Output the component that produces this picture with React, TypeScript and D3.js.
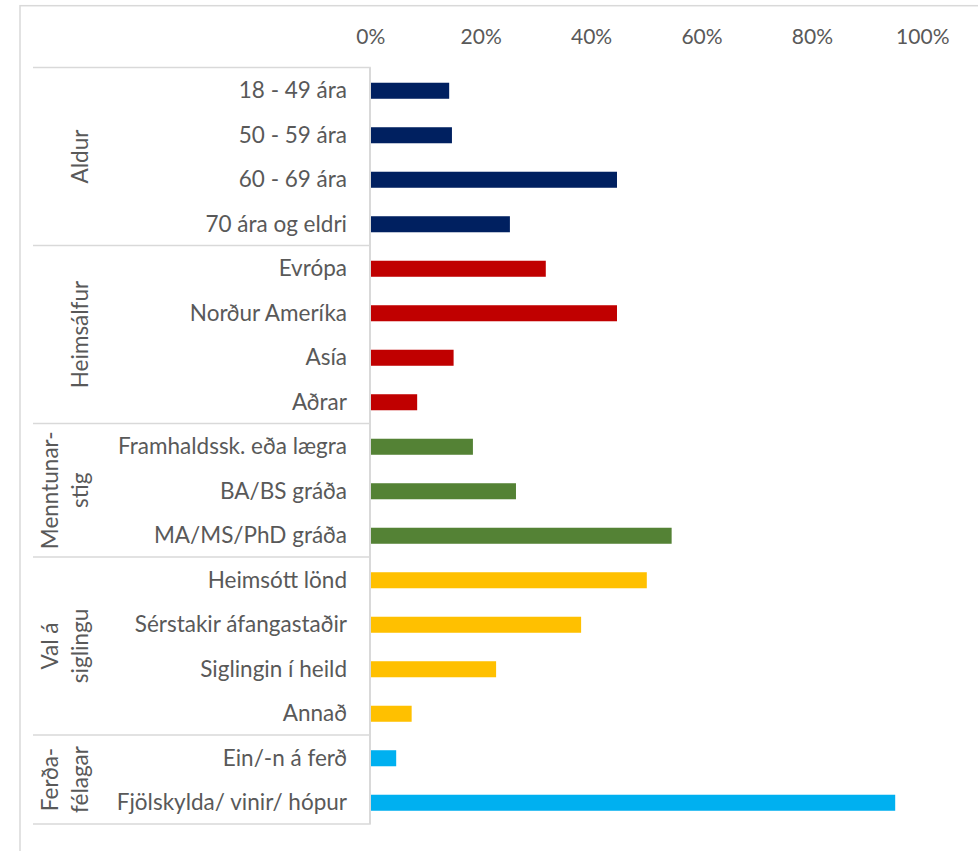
import React from "react";
import * as d3 from "d3";

const categories = [
  "18 - 49 ára", "50 - 59 ára", "60 - 69 ára", "70 ára og eldri",
  "Evrópa", "Norður Ameríka", "Asía ", "Aðrar",
  "Framhaldssk. eða lægra", "BA/BS gráða", "MA/MS/PhD gráða",
  "Heimsótt lönd", "Sérstakir áfangastaðir", "Siglingin í heild", "Annað",
  "Ein/-n á ferð", "Fjölskylda/ vinir/ hópur",
];
const values = [
  0.142, 0.147, 0.446, 0.252,
  0.317, 0.446, 0.150, 0.084,
  0.185, 0.263, 0.545,
  0.500, 0.381, 0.227, 0.074,
  0.046, 0.950,
];
const groupNames = [["Aldur"], ["Heimsálfur"], ["Menntunar-", "stig"], ["Val á", "siglingu"], ["Ferða-", "félagar"]];
const groupSizes = [4, 4, 3, 4, 2];
const groupColors = ["#002060", "#C00000", "#548235", "#FFC000", "#00B0F0"];
const ticks = [0, 0.2, 0.4, 0.6, 0.8, 1.0];

const W = 978, H = 851;
const FONT = "Lato, 'Open Sans', sans-serif";
const TEXT = "#595959";
const LINE = "#d9d9d9";

export default function App() {
  const x = d3.scaleLinear().domain([0, 1]).range([370.8, 922.8]);
  const y = d3.scaleBand<number>().domain(d3.range(categories.length)).range([67.5, 824]).paddingInner(0.64).paddingOuter(0.32);
  const step = y.step();
  const top = 67.5;
  const catColor: string[] = [];
  const groupStarts: number[] = [];
  let acc = 0;
  groupSizes.forEach((n, g) => {
    groupStarts.push(acc);
    for (let i = 0; i < n; i++) catColor.push(groupColors[g]);
    acc += n;
  });
  const fmt = d3.format(".0%");
  return (
    <svg width={W} height={H} style={{ position: "absolute", left: 0, top: 0, background: "#fff" }} fontFamily={FONT}>
      <rect x={20} y={5.7} width={1200} height={1200} fill="none" stroke={LINE} strokeWidth={1.5} />
      {ticks.map((t) => (
        <text key={t} x={x(t)} y={44.3} textAnchor="middle" fontSize={21} fill={TEXT}>{fmt(t)}</text>
      ))}
      {values.map((v, i) => (
        <rect key={i} x={x(0)} y={(y(i) as number) + 1} width={x(v) - x(0)} height={y.bandwidth()} fill={catColor[i]} />
      ))}
      {categories.map((c, i) => (
        <text key={c} x={347} y={(y(i) as number) + y.bandwidth() / 2 + 8.5} textAnchor="end" fontSize={22.5} fill={TEXT}>{c}</text>
      ))}
      {groupSizes.map((n, g) => {
        const y0 = top + groupStarts[g] * step;
        const y1 = y0 + n * step;
        const yc = (y0 + y1) / 2;
        const lines = groupNames[g];
        return (
          <g key={g}>
            {lines.map((ln, k) => {
              const bx = 88 - (lines.length - 1 - k) * 30;
              return (
                <text key={k} transform={`translate(${bx},${yc}) rotate(-90)`} textAnchor="middle" fontSize={22.5} fill={TEXT}>{ln}</text>
              );
            })}
          </g>
        );
      })}
      {d3.range(groupSizes.length + 1).map((k) => {
        const idx = k < groupSizes.length ? groupStarts[k] : categories.length;
        const yy = top + idx * step;
        return <line key={k} x1={33} x2={370.8} y1={yy} y2={yy} stroke={LINE} strokeWidth={1.5} />;
      })}
      <line x1={370} x2={370} y1={top} y2={824} stroke={LINE} strokeWidth={2} />
    </svg>
  );
}
